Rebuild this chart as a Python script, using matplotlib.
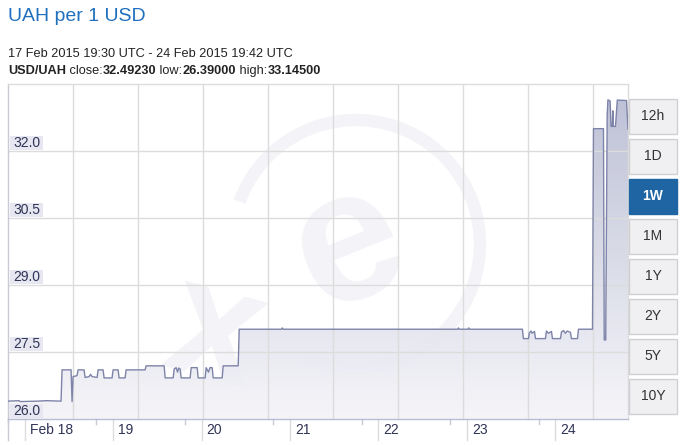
"""UAH per 1 USD, one week chart in the xe.com style."""

import matplotlib
matplotlib.use("Agg")
import numpy as np
from matplotlib import pyplot as plt
from matplotlib import transforms
from matplotlib.colors import LinearSegmentedColormap
from matplotlib.patches import Arc, Rectangle

plt.rcParams['font.family'] = ['Liberation Sans', 'DejaVu Sans']

# data: hours since 17 Feb 2015 19:30 UTC, rate in UAH per USD
hours = [
    0.0, 3.0, 3.3, 8.0, 10.5, 14.39, 14.66, 17.11, 17.38, 17.65, 18.73, 19.01,
    20.64, 20.91, 22.0, 22.4, 22.8, 24.17, 24.44, 25.79, 26.07, 28.24, 28.51,
    29.87, 30.14, 31.77, 32.04, 37.20, 37.47, 42.36, 42.63, 44.81, 45.08, 45.6,
    46.0, 46.3, 46.70, 46.97, 49.42, 49.69, 51.32, 51.59, 53.49, 53.76, 54.4,
    54.8, 55.39, 55.66, 58.10, 58.38, 62.45, 62.72, 74.2, 74.4, 74.6, 122.0,
    122.2, 122.4, 124.8, 125.0, 125.2, 139.56, 139.83, 141.19, 141.46, 141.9,
    142.2, 142.83, 143.10, 145.81, 146.08, 146.6, 147.43, 147.71, 149.88,
    150.15, 150.7, 151.2, 151.7, 152.59, 152.86, 154.49, 154.77, 158.57,
    158.84, 161.55, 161.75, 162.15, 162.55, 162.75, 163.35, 163.6, 163.95,
    164.08, 164.2, 164.8, 165.3, 167.8, 168.2,
]
rate = [
    26.40, 26.41, 26.39, 26.40, 26.41, 26.40, 27.10, 27.10, 26.39, 26.95,
    26.97, 27.10, 27.10, 26.93, 26.95, 27.00, 26.95, 26.93, 27.10, 27.10,
    26.92, 26.92, 27.10, 27.10, 26.92, 26.92, 27.10, 27.10, 27.19, 27.19,
    26.92, 26.92, 27.12, 27.15, 27.05, 27.14, 27.12, 26.92, 26.92, 27.15,
    27.15, 26.92, 26.92, 27.15, 27.05, 27.15, 27.15, 26.92, 26.92, 27.19,
    27.19, 28.01, 28.01, 28.04, 28.01, 28.01, 28.04, 28.01, 28.01, 28.04,
    28.01, 28.01, 27.80, 27.80, 27.93, 27.97, 27.92, 27.96, 27.80, 27.80,
    27.97, 27.92, 27.96, 27.80, 27.80, 27.95, 27.98, 27.92, 27.97, 27.94,
    27.80, 27.80, 28.01, 28.01, 32.50, 32.50, 27.77, 27.77, 32.80, 33.145,
    33.12, 32.55, 32.55, 32.90, 32.55, 32.55, 33.14, 33.13, 32.4923,
]
close_rate, low_rate, high_rate = "32.49230", "26.39000", "33.14500"
period = "17 Feb 2015 19:30 UTC - 24 Feb 2015 19:42 UTC"

day_labels = ["Feb 18", "19", "20", "21", "22", "23", "24"]
day_starts = [4.5, 28.5, 52.5, 76.5, 100.5, 124.5, 148.5]
y_ticks = [26.0, 27.5, 29.0, 30.5, 32.0]
ranges = ["12h", "1D", "1W", "1M", "1Y", "2Y", "5Y", "10Y"]
active_range = "1W"

W, H = 683, 445
x_end = 168.2
y_lo, y_hi = 26.0, 33.5
label_color = "#2f3356"
mark_color = "#f4f4f8"

fig = plt.figure(figsize=(W / 100, H / 100), dpi=100)
ax = fig.add_axes([8 / W, (H - 419) / H, 620 / W, 335 / H])
ax.set_xlim(0, x_end)
ax.set_ylim(y_lo, y_hi)
ax.set_xticks([])
ax.set_yticks([])
for side, col in [("left", "#c9cad6"), ("top", "#dcdcdc"),
                  ("right", "#dcdcdc"), ("bottom", "#b9bdd4")]:
    ax.spines[side].set_color(col)
    ax.spines[side].set_linewidth(1)
ax.patch.set_alpha(0)

px = transforms.IdentityTransform()

# faint watermark, behind the axes
fig.add_artist(Arc((356, H - 244), 248, 248, theta1=-115, theta2=160,
                   lw=9, color=mark_color, transform=px, zorder=-1))
fig.text(349 / W, 1 - 248 / H, "e", fontsize=135, fontweight="bold",
         color=mark_color, rotation=22, ha="center", va="center", zorder=-1)
fig.text(215 / W, 1 - 335 / H, "x", fontsize=120, fontweight="bold",
         color=mark_color, rotation=-15, ha="center", va="center", zorder=-1)

# grid
for v in y_ticks[1:]:
    ax.axhline(v, color="#dcdcdc", lw=1, zorder=2.5)
grid_step = 65 / 620 * x_end
for k in range(1, 10):
    ax.axvline(k * grid_step, color="#dcdcdc", lw=1, zorder=2.5)

# gradient area under the line
poly = ax.fill_between(hours, rate, y_lo, facecolor="none", edgecolor="none")
cmap = LinearSegmentedColormap.from_list("area", ["#f5f5f9", "#b7bbd2"])
grad = np.linspace(0, 1, 256).reshape(-1, 1)
img = ax.imshow(grad, cmap=cmap, origin="lower", aspect="auto",
                extent=[0, x_end, y_lo, y_hi], zorder=2, alpha=0.93)
img.set_clip_path(poly.get_paths()[0], transform=ax.transData)
ax.plot(hours, rate, color="#7e84a9", lw=1.0, zorder=3)

# y labels inside the plot
for v in y_ticks:
    yb = (v - y_lo) / (y_hi - y_lo) + 1 / 335
    ax.add_patch(Rectangle((2 / 620, yb), 33 / 620, 14 / 335,
                           transform=ax.transAxes, fc="#e7e7f1", ec="none",
                           zorder=4))
    ax.text(5 / 620, yb + 7 / 335, f"{v:.1f}", transform=ax.transAxes,
            fontsize=10, color=label_color, va="center", ha="left", zorder=5)

# date axis below the plot
blend = transforms.blended_transform_factory(ax.transData, ax.transAxes)
ax.plot([0, 0], [0, -21 / 335], transform=ax.transAxes, color="#c9cad6",
        lw=1, clip_on=False)
for d, lab in zip(day_starts, day_labels):
    ax.plot([d, d], [0, -21 / 335], transform=blend, color="#dcdcdc", lw=1,
            clip_on=False)
    ax.plot([d - 4.5, d - 4.5], [0, -5 / 335], transform=blend,
            color="#c9cad6", lw=1, clip_on=False)
    ax.text(d + 1.4, -11 / 335, lab, transform=blend, fontsize=10,
            color=label_color, va="center", ha="left")

# header
fig.text(8 / W, 1 - 21 / H, "UAH per 1 USD", fontsize=14, color="#1f70bf",
         va="baseline", ha="left")
fig.text(8 / W, 1 - 57 / H, period, fontsize=9.2, color="#222222",
         va="baseline", ha="left")
pieces = [("USD/UAH", "bold"), (" close:", "normal"), (close_rate, "bold"),
          (" low:", "normal"), (low_rate, "bold"), (" high:", "normal"),
          (high_rate, "bold")]
renderer = fig.canvas.get_renderer()
x0 = 8
for txt, weight in pieces:
    t = fig.text(x0 / W, 1 - 74 / H, txt.replace(" ", "\u00a0"),
                 fontsize=9.2, fontweight=weight, color="#222222",
                 va="baseline", ha="left")
    x0 = t.get_window_extent(renderer).x1

# range buttons
for i, r in enumerate(ranges):
    top = 99 + 40 * i
    on = r == active_range
    fig.add_artist(Rectangle((629, H - top - 35), 48, 35, transform=px,
                             fc="#1f65a3" if on else "#f0f0f3",
                             ec="#1f65a3" if on else "#cfcfd4", lw=1))
    fig.text(653 / W, 1 - (top + 17.5) / H, r, fontsize=10,
             fontweight="bold" if on else "normal",
             color="white" if on else "#333333", ha="center", va="center")

fig.savefig("out.png", dpi=100)
plt.close(fig)
